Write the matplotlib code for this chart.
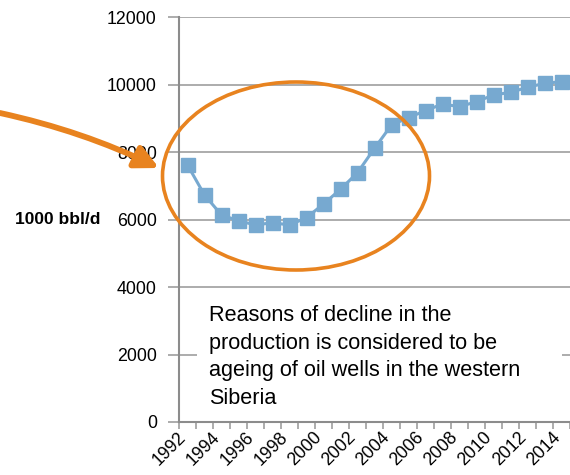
import matplotlib.pyplot as plt
import matplotlib.transforms as mtransforms
import numpy as np
from matplotlib.patches import Ellipse, FancyArrowPatch

plt.rcParams['font.family'] = ['Liberation Sans', 'DejaVu Sans']

# oil production, 1000 bbl/d
years = list(range(1992, 2015))
production = [7615, 6726, 6133, 5963, 5837, 5905, 5837, 6054, 6459, 6895, 7388,
              8109, 8800, 9017, 9225, 9422, 9343, 9491, 9689, 9768, 9916, 10035, 10084]
tick_labels = [str(y) for y in years]
y_ticks = [0, 2000, 4000, 6000, 8000, 10000, 12000]

note = ("Reasons of decline in the\nproduction is considered to be\n"
        "ageing of oil wells in the western\nSiberia")

fig = plt.figure(figsize=(5.7, 4.75), dpi=100)
W, H = 570, 475
ax = fig.add_axes([179 / W, 53 / H, 391 / W, 405 / H])

x = np.arange(len(years))
ax.plot(x, production, color='#77a9d0', lw=2.2, marker='s', ms=9.5,
        markeredgecolor='#77a9d0', zorder=3)

ax.set_xlim(-0.5, len(years) - 0.5)
ax.set_ylim(0, 12000)
ax.set_yticks(y_ticks)
ax.set_yticklabels([str(v) for v in y_ticks], fontsize=12.8)
ax.yaxis.grid(True, color='#a6a6a6', lw=1.3)
ax.set_axisbelow(True)
ax.tick_params(axis='y', length=8, color='#a6a6a6', width=1.3, pad=8)

# category boundaries as ticks, labels on every other category
ax.set_xticks(np.arange(len(years) + 1) - 0.5)
ax.set_xticklabels([])
ax.set_xticks(x[::2], minor=True)
ax.set_xticklabels(tick_labels[::2], minor=True, rotation=45, ha='right',
                   va='center', rotation_mode='anchor', fontsize=12.8)
ax.tick_params(axis='x', which='major', length=5, color='#a6a6a6', width=1.3)
ax.tick_params(axis='x', which='minor', length=0, pad=9)
shift = mtransforms.ScaledTranslation(-4 / 100, 0, fig.dpi_scale_trans)
for lbl in ax.get_xticklabels(minor=True):
    lbl.set_transform(lbl.get_transform() + shift)

for s in ['top', 'right']:
    ax.spines[s].set_visible(False)
for s in ['left', 'bottom']:
    ax.spines[s].set_color('#8c8c8c')
    ax.spines[s].set_linewidth(1.5)

fig.text(58 / W, 1 - 220 / H, '1000 bbl/d', fontsize=12.5, fontweight='bold',
         ha='center', va='center')

# note box
fig.patches.append(plt.Rectangle((197 / W, 1 - 420 / H), 365 / W, 130 / H,
                                 transform=fig.transFigure, facecolor='white',
                                 edgecolor='none', zorder=2))
fig.text(209 / W, 1 - 305 / H, note, fontsize=15.6, ha='left', va='top',
         linespacing=1.42, zorder=4)

orange = '#e8831f'
ell = Ellipse((296 / W, 1 - 176 / H), 267 / W, 188 / H, transform=fig.transFigure,
              fill=False, edgecolor=orange, lw=2.6, zorder=5)
fig.patches.append(ell)

arrow = FancyArrowPatch((0 / W, 1 - 113 / H), (159 / W, 1 - 168 / H),
                        transform=fig.transFigure, connectionstyle='arc3,rad=-0.06',
                        arrowstyle='-|>,head_length=14,head_width=7',
                        color=orange, lw=4.2, zorder=5, shrinkA=0, shrinkB=0)
fig.patches.append(arrow)

fig.savefig('out.png', dpi=100)
